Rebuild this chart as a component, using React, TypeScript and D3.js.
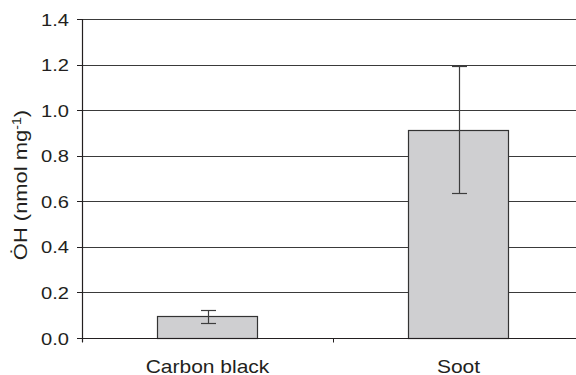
import React, { useEffect, useRef } from "react";
import * as d3 from "d3";

const categories = ["Carbon black", "Soot"];
const means = [0.095, 0.915];
const errors = [0.03, 0.278];
const yTicks = [0, 0.2, 0.4, 0.6, 0.8, 1.0, 1.2, 1.4];

export default function App() {
  const ref = useRef<SVGSVGElement>(null);

  useEffect(() => {
    const width = 576,
      height = 375;
    const left = 82,
      right = 584, // plot runs past the right edge in the original
      top = 19,
      bottom = 338;

    const svg = d3.select(ref.current);
    svg.selectAll("*").remove();

    // the original uses a wide Helvetica, so text gets stretched sideways
    const font = "'Liberation Sans', Arial, Helvetica, sans-serif";
    const ink = "#231f20";

    var y = d3.scaleLinear().domain([0, 1.4]).range([bottom, top]);
    var x = d3
      .scaleBand<string>()
      .domain(categories)
      .range([left, right])
      .paddingInner(0.6)
      .paddingOuter(0.3);

    // horizontal gridlines
    svg
      .append("g")
      .selectAll("line")
      .data(yTicks.slice(1))
      .enter()
      .append("line")
      .attr("x1", left)
      .attr("x2", right)
      .attr("y1", (d) => Math.round(y(d)) + 0.5)
      .attr("y2", (d) => Math.round(y(d)) + 0.5)
      .attr("stroke", "#3a3a3a")
      .attr("stroke-width", 1);

    // y axis line + ticks
    const yAxis = svg.append("g");
    yAxis
      .append("line")
      .attr("x1", left + 0.5)
      .attr("x2", left + 0.5)
      .attr("y1", Math.round(top))
      .attr("y2", Math.round(bottom) + 4)
      .attr("stroke", ink)
      .attr("stroke-width", 1.2);
    yAxis
      .selectAll(".tk")
      .data(yTicks)
      .enter()
      .append("line")
      .attr("x1", left - 5)
      .attr("x2", left)
      .attr("y1", (d) => Math.round(y(d)) + 0.5)
      .attr("y2", (d) => Math.round(y(d)) + 0.5)
      .attr("stroke", ink);
    const fmt = d3.format(".1f");
    yAxis
      .selectAll("text")
      .data(yTicks)
      .enter()
      .append("text")
      .attr("transform", (d) => `translate(69,${y(d)}) scale(1.22,1)`)
      .attr("dy", "0.4em")
      .attr("text-anchor", "end")
      .attr("fill", ink)
      .attr("font-family", font)
      .attr("font-size", 16.5)
      .text((d) => fmt(d));

    // bars
    const bars = svg.append("g");
    bars
      .selectAll("rect")
      .data(categories)
      .enter()
      .append("rect")
      .attr("x", (d) => Math.round(x(d)!) + 0.5)
      .attr("y", (d, i) => Math.round(y(means[i])) + 0.5)
      .attr("width", Math.round(x.bandwidth()))
      .attr("height", (d, i) => Math.round(y(0)) - Math.round(y(means[i])))
      .attr("fill", "#cfcfd1")
      .attr("stroke", "#333")
      .attr("stroke-width", 1.2);

    // error bars
    const err = svg.append("g").attr("stroke", "#3d3d3d").attr("stroke-width", 1.2);
    categories.forEach(function (c, i) {
      const cx = Math.round(x(c)! + x.bandwidth() / 2) + 0.5;
      const hi = Math.round(y(means[i] + errors[i])) + 0.5;
      const lo = Math.round(y(means[i] - errors[i])) + 0.5;
      err.append("line").attr("x1", cx).attr("x2", cx).attr("y1", hi).attr("y2", lo);
      err.append("line").attr("x1", cx - 7.5).attr("x2", cx + 7.5).attr("y1", hi).attr("y2", hi);
      err.append("line").attr("x1", cx - 7.5).attr("x2", cx + 7.5).attr("y1", lo).attr("y2", lo);
    });

    // x axis
    const xAxis = svg
      .append("g")
      .attr("transform", `translate(0,${Math.round(bottom) + 0.5})`);
    xAxis
      .append("line")
      .attr("x1", left)
      .attr("x2", right)
      .attr("stroke", ink)
      .attr("stroke-width", 1.2);
    const step = x.step();
    xAxis
      .selectAll(".sep")
      .data([left, left + step, left + 2 * step])
      .enter()
      .append("line")
      .attr("x1", (d) => Math.round(d) + 0.5)
      .attr("x2", (d) => Math.round(d) + 0.5)
      .attr("y1", 0)
      .attr("y2", 4)
      .attr("stroke", ink);
    xAxis
      .selectAll("text")
      .data(categories)
      .enter()
      .append("text")
      .attr("transform", (d) => `translate(${x(d)! + x.bandwidth() / 2},34) scale(1.13,1)`)
      .attr("text-anchor", "middle")
      .attr("fill", ink)
      .attr("font-family", font)
      .attr("font-size", 18.6)
      .text((d) => d);

    // y label
    const lab = svg
      .append("text")
      .attr("transform", `translate(27,185) rotate(-90) scale(1.18,1)`)
      .attr("text-anchor", "middle")
      .attr("fill", ink)
      .attr("font-family", font)
      .attr("font-size", 18.6);
    lab.append("tspan").text("O\u0307H (nmol mg");
    lab.append("tspan").attr("baseline-shift", "super").attr("font-size", 12).text("-1");
    lab.append("tspan").text(")");

    svg.attr("width", width).attr("height", height);
  }, []);

  return (
    <svg
      ref={ref}
      width={576}
      height={375}
      style={{ position: "absolute", left: 0, top: 0, background: "#fff", overflow: "hidden" }}
    />
  );
}
